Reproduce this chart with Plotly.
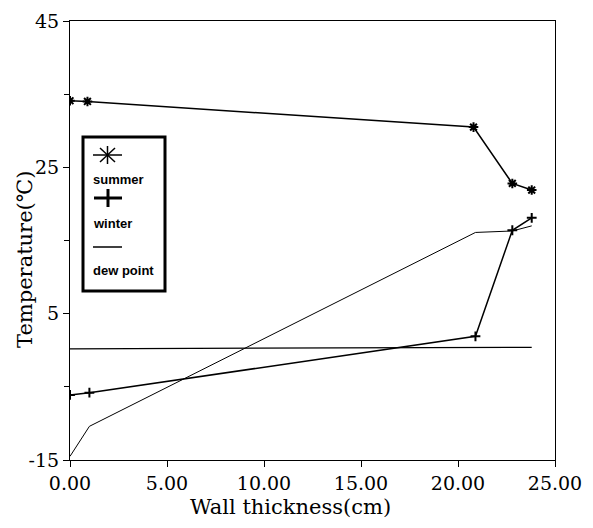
import plotly.graph_objects as go

# ---- data ----
summer_x = [0.0, 0.9, 20.8, 22.8, 23.8]
summer_y = [34.1, 34.0, 30.5, 22.8, 21.9]

winter_x = [0.0, 1.0, 20.9, 22.8, 23.8]
winter_y = [-6.1, -5.8, 1.9, 16.4, 18.1]

dew_x = [0.0, 1.0, 20.9, 22.8, 23.8]
dew_y = [-14.5, -10.4, 16.1, 16.3, 17.0]

ref_x = [0.0, 23.8]
ref_y = [0.2, 0.4]

series_names = ["summer", "winter", "dew point"]
x_ticks = [0, 5, 10, 15, 20, 25]
x_tick_labels = ["0.00", "5.00", "10.00", "15.00", "20.00", "25.00"]
y_ticks = [-15, 5, 25, 45]
y_tick_labels = ["-15", "5", "25", "45"]
y_minor_ticks = [-5, 15, 35]

serif = "DejaVu Serif, Liberation Serif, serif"

# plot-area geometry in page pixels (page body has an 8px margin)
PL, PR, PT, PB = 70, 555, 21, 460
PW, PH = PR - PL, PB - PT


def px(x):
    return (x - PL) / PW


def py(y):
    return (PB - y) / PH


fig = go.Figure()
fig.add_trace(go.Scatter(x=summer_x, y=summer_y, name=series_names[0], mode="lines+markers",
                         line=dict(color="black", width=1.5),
                         marker=dict(symbol="asterisk-open", size=8, line=dict(color="black", width=2))))
fig.add_trace(go.Scatter(x=winter_x, y=winter_y, name=series_names[1], mode="lines+markers",
                         line=dict(color="black", width=1.5),
                         marker=dict(symbol="cross-thin-open", size=7, line=dict(color="black", width=2))))
fig.add_trace(go.Scatter(x=dew_x, y=dew_y, name=series_names[2], mode="lines",
                         line=dict(color="black", width=1)))
fig.add_trace(go.Scatter(x=ref_x, y=ref_y, mode="lines", showlegend=False,
                         line=dict(color="black", width=1.3)))

# custom legend box (symbol above label, as in the reference)
fig.add_shape(type="rect", xref="paper", yref="paper", x0=px(83), x1=px(165), y0=py(291), y1=py(137),
              line=dict(color="black", width=3), fillcolor="white", layer="above")


def seg(x0, y0, x1, y1, w):
    fig.add_shape(type="line", xref="paper", yref="paper", x0=px(x0), y0=py(y0), x1=px(x1), y1=py(y1),
                  line=dict(color="black", width=w), layer="above")


# asterisk symbol
seg(93, 155, 122, 155, 1.5)
seg(107.5, 146, 107.5, 164, 1.5)
seg(100, 148, 115, 162, 1.5)
seg(115, 148, 100, 162, 1.5)
# plus symbol
seg(94, 198, 122, 198, 3)
seg(108, 189, 108, 207, 3)
# line symbol
seg(93, 247, 122, 247, 1.5)

leg_font = dict(family="Liberation Sans Narrow, Liberation Sans, Arial, sans-serif", size=13,
                color="black", weight="bold")
for txt, yy in [(series_names[0], 179), (series_names[1], 223), (series_names[2], 270)]:
    fig.add_annotation(xref="paper", yref="paper", x=px(91), y=py(yy), text=txt, showarrow=False,
                       xanchor="left", yanchor="middle", font=leg_font)

# axis titles (placed as in the reference)
fig.add_annotation(xref="paper", yref="paper", x=px(290), y=py(507), text="Wall thickness(cm)",
                   showarrow=False, xanchor="center", yanchor="middle",
                   font=dict(family=serif, size=21, color="black"))
fig.add_annotation(xref="paper", yref="paper", x=px(25), y=py(260), text="Temperature(℃)",
                   showarrow=False, xanchor="center", yanchor="middle", textangle=-90,
                   font=dict(family=serif, size=21, color="black"))

fig.update_layout(
    width=593, height=528,
    margin=dict(l=PL - 8, r=593 - (PR - 8), t=PT - 8, b=528 - (PB - 8)),
    plot_bgcolor="white", paper_bgcolor="white",
    showlegend=False,
    font=dict(family=serif, color="black"),
)
fig.update_xaxes(range=[0, 25], tickvals=x_ticks, ticktext=x_tick_labels, automargin=False,
                 ticks="outside", ticklen=6, tickcolor="black", ticklabeloverflow="allow",
                 showline=True, linecolor="black", linewidth=1.2, mirror=True,
                 showgrid=False, zeroline=False,
                 tickfont=dict(family=serif, size=19, color="black"))
fig.update_yaxes(range=[-15, 45], tickvals=y_ticks, ticktext=y_tick_labels, automargin=False,
                 ticks="outside", ticklen=6, tickcolor="black", ticklabeloverflow="allow",
                 minor=dict(tickvals=y_minor_ticks, ticks="outside", ticklen=5, tickcolor="black"),
                 showline=True, linecolor="black", linewidth=1.2, mirror=True,
                 showgrid=False, zeroline=False,
                 tickfont=dict(family=serif, size=19, color="black"))

fig.write_html("out.html")
